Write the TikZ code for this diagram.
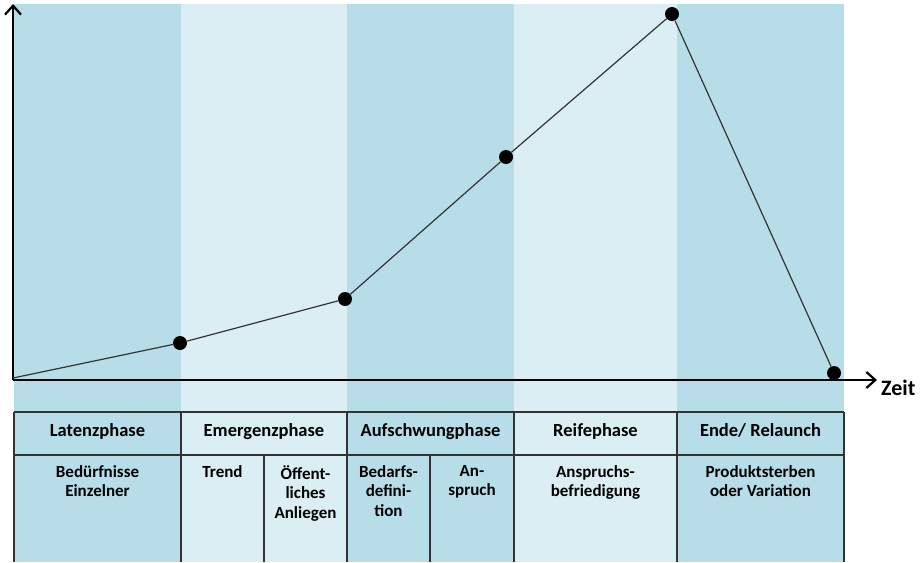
\documentclass[tikz,border=0pt]{standalone}
\usepackage{fontspec}
\setmainfont{Carlito}
\usetikzlibrary{arrows.meta,positioning}
\definecolor{darkband}{HTML}{B7DDE8}
\definecolor{lightband}{HTML}{DBEEF3}

\begin{document}
\begin{tikzpicture}[x=1pt,y=-1pt]
\tikzset{dot/.style={fill=black,circle,inner sep=0pt,minimum size=14pt},
	head/.style={font=\bfseries\fontsize{18.5}{21}\selectfont,anchor=base},
	sub/.style={font=\bfseries\fontsize{17}{19.5}\selectfont,align=center,anchor=north,inner sep=0pt},
	grid/.style={draw=black!80,line width=1.5pt},
	axis/.style={line width=2.2pt,-{Straight Barb[length=9pt,width=16pt]}}}
\useasboundingbox (0,0) rectangle (920,562);

% phase bands
\foreach \xa/\xb/\c in {14/181/darkband,181/347/lightband,347/514/darkband,514/677/lightband,677/844/darkband}
{
\fill[\c] (\xa,4) rectangle (\xb,562);
}

% axes
\coordinate (o) at (13,380);
\coordinate (ytop) at (13,4);
\coordinate (xend) at (877,380);
\draw[axis] (o) -- (ytop);
\draw[axis] (o) -- (xend);
\node(zeit)[anchor=base west,inner sep=0pt,font=\bfseries\fontsize{22}{24}\selectfont] at (881,395){Zeit};

% the curve
\coordinate (st) at (13,378);
\node(p1)[dot] at (180,343){};
\node(p2)[dot] at (345,299){};
\node(p3)[dot] at (506,157){};
\node(p4)[dot] at (672,14){};
\node(p5)[dot] at (834,373){};
\draw[black!80, line width=1.2pt] (st) -- (p1) -- (p2) -- (p3) -- (p4) -- (p5);

% table
\draw[grid] (14,412) -- (844,412);
\draw[grid] (14,455) -- (844,455);
\foreach \x in {14,181,347,514,677,844}
{
\draw[grid] (\x,412) -- (\x,562);
}
\foreach \x in {264,430}
{
\draw[grid] (\x,455) -- (\x,562);
}

% phase names
\node(latenz)[head] at (97.5,436){Latenzphase};
\node(emergenz)[head] at (264,436){Emergenzphase};
\node(aufschwung)[head] at (430.5,436){Aufschwungphase};
\node(reife)[head] at (595.5,436){Reifephase};
\node(ende)[head] at (760.5,436){Ende/ Relaunch};

% sub rows
\node(beduerfnisse)[sub] at (97.5,465){Bedürfnisse\\Einzelner};
\node(trend)[sub] at (222.5,465){Trend};
\node(anliegen)[sub] at (305.5,465){Öffent-\\liches\\Anliegen};
\node(bedarf)[sub] at (388.5,465){Bedarfs-\\defini-\\tion};
\node(anspruch)[sub] at (472,465){An-\\spruch};
\node(befriedigung)[sub] at (595.5,465){Anspruchs-\\befriedigung};
\node(variation)[sub] at (760.5,465){Produktsterben\\oder Variation};
\end{tikzpicture}
\end{document}
